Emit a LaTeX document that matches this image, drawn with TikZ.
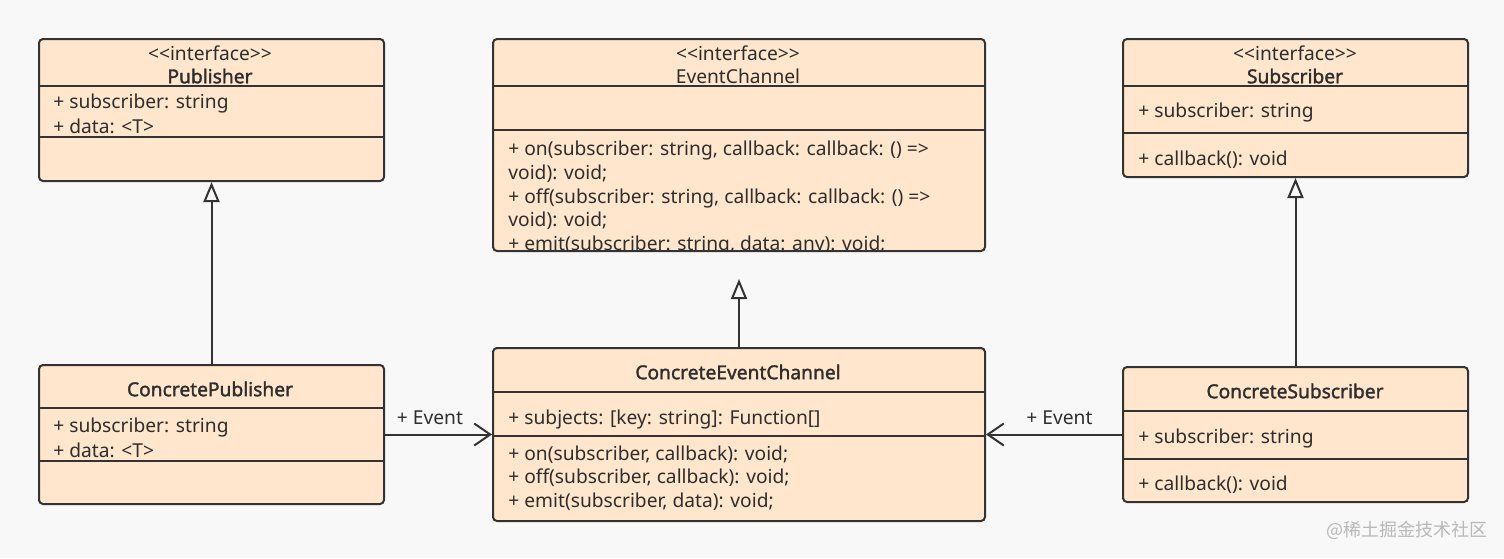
\documentclass[tikz,border=0pt]{standalone}
\usepackage{fontspec}
\setmainfont{Noto Sans}[AutoFakeBold=1.6, Ligatures=NoCommon]
\newfontfamily\cjkfont{Noto Sans CJK SC}
\usetikzlibrary{arrows.meta}
\definecolor{bgc}{HTML}{F8F8F8}
\definecolor{boxfill}{HTML}{FFE6CC}
\definecolor{boxline}{HTML}{333333}
\definecolor{txt}{HTML}{2E2E2E}
\newcommand\umlsize{\fontsize{9.6}{12.5}\selectfont}
\newcommand\headsize{\fontsize{9.6}{11.5}\selectfont}
\newcommand\opsize{\fontsize{9.6}{11.85}\selectfont}
\newcommand\stereo{<\kern0pt<interface>\kern0pt>}

\begin{document}
\begin{tikzpicture}[x=0.5pt, y=-0.5pt]
    % Common styles
    \tikzset{
        classbox/.style={draw=boxline, fill=boxfill, line width=1pt, rounded corners=2pt, anchor=north west, inner sep=0pt},
        divider/.style={draw=boxline, line width=1pt},
        member/.style={anchor=west, inner sep=0pt, align=left, text=txt, font=\umlsize},
        ops/.style={member, font=\opsize},
        header/.style={inner sep=0pt, align=center, text=txt, font=\headsize},
        classname/.style={inner sep=0pt, text=txt, font=\umlsize\bfseries},
        realize/.style={draw=boxline, line width=1pt, -{Triangle[fill=bgc, length=10pt, width=8pt]}},
        assoc/.style={draw=boxline, line width=1pt, -{Straight Barb[length=8pt, width=11pt]}},
        evlabel/.style={above=4.5pt, inner sep=0pt, text=txt, font=\umlsize}
    }
    \fill[bgc] (0,0) rectangle (1504,558);
    \useasboundingbox (0,0) rectangle (1504,558);

    % --- Interface: Publisher ---
    \node[classbox, minimum width=172.5pt, minimum height=71pt] (pub) at (38,38) {};
    \draw[divider] (pub.west |- 0,86) -- (pub.east |- 0,86);
    \draw[divider] (pub.west |- 0,137) -- (pub.east |- 0,137);
    \node[header] (pubhead) at (210,64.5) {\stereo\\\textbf{Publisher}};
    \node[member] (pubattr) at (53,113.5) {+ subscriber: string\\+ data: <T>};

    % --- Interface: EventChannel ---
    \node[classbox, minimum width=246pt, minimum height=106pt] (ec) at (492,38) {};
    \draw[divider] (ec.west |- 0,86) -- (ec.east |- 0,86);
    \draw[divider] (ec.west |- 0,130) -- (ec.east |- 0,130);
    \node[header] (echead) at (738,64.5) {\stereo\\EventChannel};
    \begin{scope}
        \clip (ec.north west) rectangle ([yshift=0.5pt]ec.south east);
        \node[ops] (ecops) at (508,198) {+ on(subscriber: string, callback: callback: () =>\\void): void;\\+ off(subscriber: string, callback: callback: () =>\\void): void;\\+ emit(subscriber: string, data: any): void;};
    \end{scope}

    % --- Interface: Subscriber ---
    \node[classbox, minimum width=172.5pt, minimum height=69pt] (sub) at (1122,38) {};
    \draw[divider] (sub.west |- 0,86) -- (sub.east |- 0,86);
    \draw[divider] (sub.west |- 0,133) -- (sub.east |- 0,133);
    \node[header] (subhead) at (1295,64.5) {\stereo\\\textbf{Subscriber}};
    \node[member] (subattr) at (1138,113) {+ subscriber: string};
    \node[member] (subops) at (1138,160) {+ callback(): void};

    % --- ConcretePublisher ---
    \node[classbox, minimum width=172.5pt, minimum height=69.5pt] (cpub) at (38,364) {};
    \draw[divider] (cpub.west |- 0,408) -- (cpub.east |- 0,408);
    \draw[divider] (cpub.west |- 0,461) -- (cpub.east |- 0,461);
    \node[classname] (cpubname) at (210,389) {ConcretePublisher};
    \node[member] (cpubattr) at (53,437.5) {+ subscriber: string\\+ data: <T>};

    % --- ConcreteEventChannel ---
    \node[classbox, minimum width=246pt, minimum height=86.5pt] (cec) at (492,347) {};
    \draw[divider] (cec.west |- 0,392) -- (cec.east |- 0,392);
    \draw[divider] (cec.west |- 0,436) -- (cec.east |- 0,436);
    \node[classname] (cecname) at (738,372) {ConcreteEventChannel};
    \node[member] (cecattr) at (508,419) {+ subjects: [key: string]: Function[]};
    \node[ops] (cecops) at (508,478) {+ on(subscriber, callback): void;\\+ off(subscriber, callback): void;\\+ emit(subscriber, data): void;};

    % --- ConcreteSubscriber ---
    \node[classbox, minimum width=172.5pt, minimum height=67.5pt] (csub) at (1122,366) {};
    \draw[divider] (csub.west |- 0,411) -- (csub.east |- 0,411);
    \draw[divider] (csub.west |- 0,459) -- (csub.east |- 0,459);
    \node[classname] (csubname) at (1295,391) {ConcreteSubscriber};
    \node[member] (csubattr) at (1138,438) {+ subscriber: string};
    \node[member] (csubops) at (1138,485) {+ callback(): void};

    % Realization arrows
    \coordinate (ectip) at ([yshift=-13.5pt]ec.south);
    \draw[realize] (cpub.north) -- (pub.south);
    \draw[realize] (cec.north) -- (ectip);
    \draw[realize] (csub.north) -- (sub.south);

    % Event associations
    \draw[assoc] (cpub.east) -- node[evlabel, pos=0.42] (evpub) {+ Event} (cec.west);
    \draw[assoc] (csub.west) -- node[evlabel, pos=0.46] (evsub) {+ Event} (cec.east);

    % Watermark
    \node[text=gray!55, font=\cjkfont\fontsize{9}{10}\selectfont, inner sep=0pt] (mark) at (1407,530) {@稀土掘金技术社区};
\end{tikzpicture}
\end{document}
